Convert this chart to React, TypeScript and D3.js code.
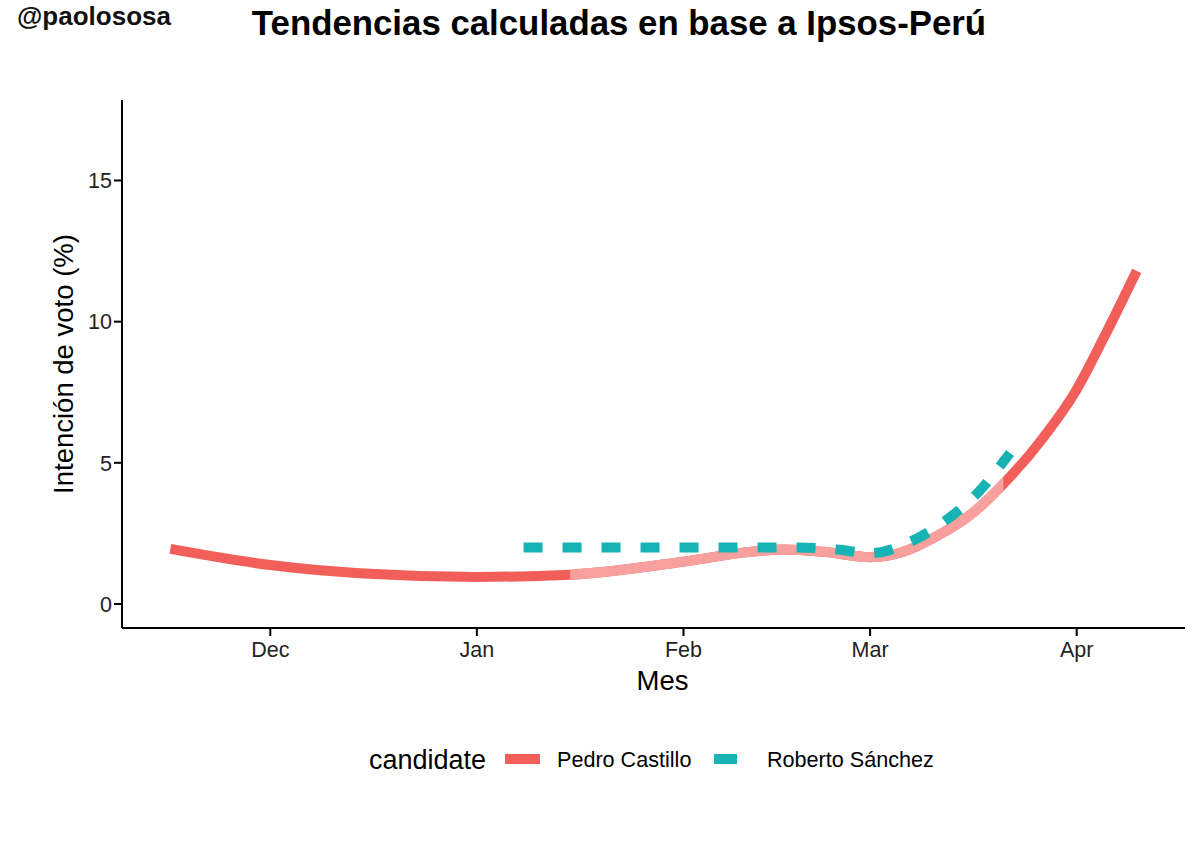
import * as d3 from "d3";

const parse = d3.timeParse("%Y-%m-%d");

// Pedro Castillo trend
const castilloDates = [
    "2020-11-16", "2020-12-01", "2020-12-15", "2021-01-01", "2021-01-15",
    "2021-02-01", "2021-02-10", "2021-02-16", "2021-02-22", "2021-03-01",
    "2021-03-06", "2021-03-11", "2021-03-16", "2021-03-22", "2021-03-27",
    "2021-04-01", "2021-04-05", "2021-04-10",
];
const castilloValues = [
    1.95, 1.38, 1.08, 0.96, 1.04, 1.5, 1.82, 1.93, 1.85, 1.66, 1.85, 2.4,
    3.15, 4.5, 5.9, 7.6, 9.4, 11.8,
];

// Roberto Sánchez trend
const sanchezDates = [
    "2021-01-08", "2021-01-25", "2021-02-10", "2021-02-18", "2021-02-24",
    "2021-03-01", "2021-03-07", "2021-03-12", "2021-03-17", "2021-03-22",
];
const sanchezValues = [2.0, 2.0, 2.0, 2.0, 1.93, 1.8, 2.2, 2.9, 3.9, 5.35];

const monthTicks = ["2020-12-01", "2021-01-01", "2021-02-01", "2021-03-01", "2021-04-01"];
const monthLabels = ["Dec", "Jan", "Feb", "Mar", "Apr"];
const yTicks = [0, 5, 10, 15];

// segment of the Castillo line drawn lighter
const lightFrom = "2021-01-15";
const lightTo = "2021-03-21";

interface Point {
    date: Date;
    value: number;
}

const castillo: Point[] = castilloDates.map((d, i) => ({ date: parse(d)!, value: castilloValues[i] }));
const sanchez: Point[] = sanchezDates.map((d, i) => ({ date: parse(d)!, value: sanchezValues[i] }));

const RED = "#F25E5A";
const LIGHT_RED = "#F7A09D";
const TEAL = "#17B2B4";
const FONT = "'Liberation Sans', Arial, Helvetica, sans-serif";

export default function App() {
    const width = 1200;
    const height = 844;
    const margin = { top: 100, right: 15, bottom: 216, left: 122 };
    const innerW = width - margin.left - margin.right;
    const innerH = height - margin.top - margin.bottom;

    const [x0, x1] = d3.extent(castillo, (d) => d.date) as [Date, Date];
    const pad = (x1.getTime() - x0.getTime()) * 0.05;
    const x = d3
        .scaleTime()
        .domain([new Date(x0.getTime() - pad), new Date(x1.getTime() + pad)])
        .range([0, innerW]);

    const y = d3.scaleLinear().domain([-0.85, 17.85]).range([innerH, 0]);

    const line = d3
        .line<Point>()
        .x((d) => x(d.date))
        .y((d) => y(d.value))
        .curve(d3.curveMonotoneX);

    const lx0 = x(parse(lightFrom)!);
    const lx1 = x(parse(lightTo)!);

    return (
        <svg
            width={width}
            height={height}
            style={{ position: "absolute", left: 0, top: 0, background: "white" }}
            fontFamily={FONT}
        >
            <defs>
                <clipPath id="light-seg">
                    <rect x={lx0} y={-50} width={lx1 - lx0} height={innerH + 100} />
                </clipPath>
            </defs>

            <text x={17} y={25} fontSize={26} fontWeight="bold" fill="#111">
                @paolososa
            </text>
            <text x={619} y={35} fontSize={34.8} fontWeight="bold" textAnchor="middle" fill="#000">
                Tendencias calculadas en base a Ipsos-Perú
            </text>

            <g transform={`translate(${margin.left}, ${margin.top})`}>
                {/* lines */}
                <path d={line(castillo) || undefined} fill="none" stroke={RED} strokeWidth={10} />
                <path
                    d={line(castillo) || undefined}
                    fill="none"
                    stroke={LIGHT_RED}
                    strokeWidth={10}
                    clipPath="url(#light-seg)"
                />
                <path
                    d={line(sanchez) || undefined}
                    fill="none"
                    stroke={TEAL}
                    strokeWidth={10}
                    strokeDasharray="19 20"
                />

                {/* y axis */}
                <line x1={0} x2={0} y1={0} y2={innerH} stroke="#000" strokeWidth={2} />
                {yTicks.map((t) => (
                    <g key={t} transform={`translate(0, ${y(t)})`}>
                        <line x1={-8} x2={0} stroke="#000" strokeWidth={2} />
                        <text x={-10} dy="0.36em" textAnchor="end" fontSize={21.5} fill="#222">
                            {t}
                        </text>
                    </g>
                ))}
                <text
                    transform={`translate(${-49}, ${innerH / 2}) rotate(-90)`}
                    textAnchor="middle"
                    fontSize={27.5}
                    fill="#000"
                >
                    Intención de voto (%)
                </text>

                {/* x axis */}
                <line x1={0} x2={innerW} y1={innerH} y2={innerH} stroke="#000" strokeWidth={2} />
                {monthTicks.map((t, i) => (
                    <g key={t} transform={`translate(${x(parse(t)!)}, ${innerH})`}>
                        <line y1={0} y2={8} stroke="#000" strokeWidth={2} />
                        <text y={29} textAnchor="middle" fontSize={21.5} fill="#222">
                            {monthLabels[i]}
                        </text>
                    </g>
                ))}
                <text x={innerW / 2 + 9} y={innerH + 62} textAnchor="middle" fontSize={27.5} fill="#000">
                    Mes
                </text>
            </g>

            {/* legend */}
            <g transform="translate(0, 759)">
                <text x={369} dy="0.36em" fontSize={27} fill="#000">
                    candidate
                </text>
                <line x1={505} x2={540} stroke={RED} strokeWidth={10} />
                <text x={557} dy="0.36em" fontSize={21.6} fill="#000">
                    Pedro Castillo
                </text>
                <line x1={714} x2={737} stroke={TEAL} strokeWidth={10} />
                <text x={767} dy="0.36em" fontSize={21.6} fill="#000">
                    Roberto Sánchez
                </text>
            </g>
        </svg>
    );
}
